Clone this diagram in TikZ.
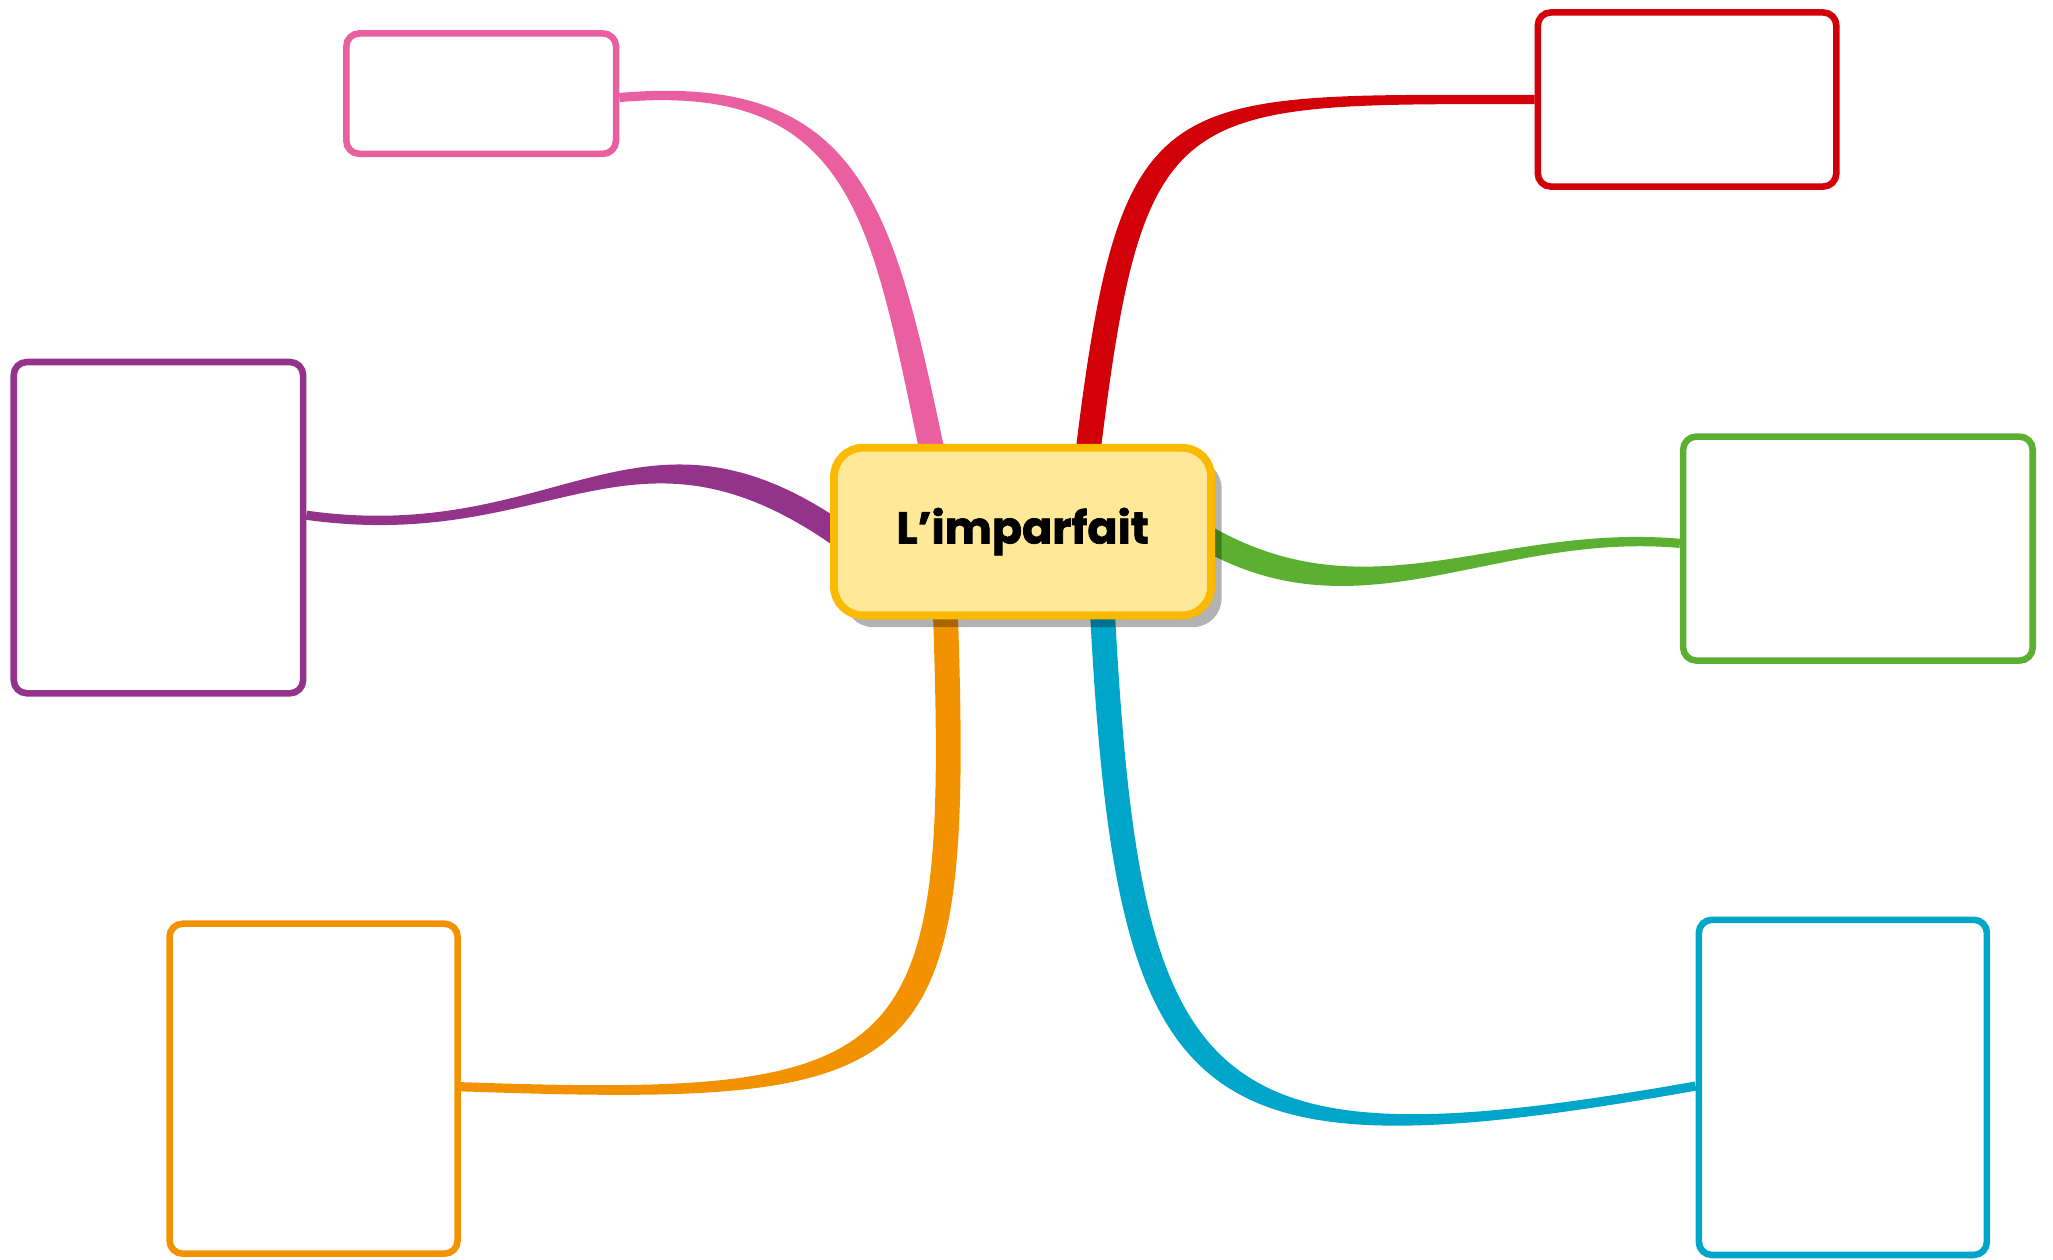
\documentclass[tikz,border=0pt]{standalone}
\usepackage{fontspec}
\newfontfamily\hubfont{Poppins}[BoldFeatures={FakeBold=1.6}]
\usetikzlibrary{calc,shadows,backgrounds}
\definecolor{hubfill}{HTML}{FFE897}
\definecolor{hubline}{HTML}{FBBA00}
\definecolor{pinkbranch}{HTML}{EA5F9F}
\definecolor{redbranch}{HTML}{D20008}
\definecolor{purplebranch}{HTML}{94338A}
\definecolor{greenbranch}{HTML}{5BB031}
\definecolor{orangebranch}{HTML}{F39200}
\definecolor{tealbranch}{HTML}{00A6C9}

\begin{document}
\begin{tikzpicture}[x=1pt, y=1pt,
  leaf/.style={draw, fill=white, line width=5, rounded corners=10, inner sep=0},
  hub/.style={draw=hubline, fill=hubfill, line width=6, rounded corners=22, inner sep=0,
    minimum width=288, minimum height=128,
    drop shadow={shadow xshift=8, shadow yshift=-9, fill=black, opacity=.3},
    font=\hubfont\bfseries\fontsize{34}{40}\selectfont}]
\useasboundingbox (0,0) rectangle (1568,-962.3);

\node [hub] (hub) at (781,-406) {L’imparfait};
\node [leaf, draw=pinkbranch, minimum width=206, minimum height=92] (pink) at (367.5,-71.5) {};
\node [leaf, draw=redbranch, minimum width=228, minimum height=133] (red) at (1288.5,-76) {};
\node [leaf, draw=purplebranch, minimum width=221, minimum height=253] (purple) at (121,-403) {};
\node [leaf, draw=greenbranch, minimum width=267, minimum height=171] (green) at (1419,-419) {};
\node [leaf, draw=orangebranch, minimum width=220, minimum height=252] (orange) at (239.5,-831.5) {};
\node [leaf, draw=tealbranch, minimum width=220, minimum height=256] (teal) at (1407.5,-830.5) {};

\begin{pgfonlayer}{background}
\fill [pinkbranch] ($(pink.east)+(0,-3)+(95:3.5)$) to[out=5, in=102, looseness=1.3] ($(hub.north)+(-69,-6)+(12:9.5)$)
  -- ($(hub.north)+(-69,-6)+(192:9.5)$) to[out=102, in=5, looseness=1.3] ($(pink.east)+(0,-3)+(-85:3.5)$) -- cycle;
\fill [redbranch] ($(red.west)+(270:3.5)$) to[out=180, in=83, looseness=1.65] ($(hub.north)+(50,-6)+(-7:9.5)$)
  -- ($(hub.north)+(50,-6)+(173:9.5)$) to[out=83, in=180, looseness=1.65] ($(red.west)+(90:3.5)$) -- cycle;
\fill [purplebranch] ($(purple.east)+(0,9.5)+(82:3.5)$) to[out=-8, in=145, looseness=1.2] ($(hub.west)+(8,-3)+(55:9.5)$)
  -- ($(hub.west)+(8,-3)+(235:9.5)$) to[out=145, in=-8, looseness=1.2] ($(purple.east)+(0,9.5)+(-98:3.5)$) -- cycle;
\fill [greenbranch] ($(green.west)+(0,4)+(265:3.5)$) to[out=175, in=-30, looseness=1] ($(hub.east)+(-8,-4)+(240:9.5)$)
  -- ($(hub.east)+(-8,-4)+(60:9.5)$) to[out=-30, in=175, looseness=1] ($(green.west)+(0,4)+(85:3.5)$) -- cycle;
\fill [orangebranch] ($(orange.east)+(0,1.5)+(88:3.5)$) to[out=-2, in=-88, looseness=1.75] ($(hub.south)+(-59,6)+(182:9.5)$)
  -- ($(hub.south)+(-59,6)+(2:9.5)$) to[out=-88, in=-2, looseness=1.75] ($(orange.east)+(0,1.5)+(268:3.5)$) -- cycle;
\fill [tealbranch] ($(teal.west)+(0,1)+(280:3.5)$) to[out=190, in=-87, looseness=1.7] ($(hub.south)+(61,6)+(183:9.5)$)
  -- ($(hub.south)+(61,6)+(3:9.5)$) to[out=-87, in=190, looseness=1.7] ($(teal.west)+(0,1)+(100:3.5)$) -- cycle;
\end{pgfonlayer}
\end{tikzpicture}
\end{document}
